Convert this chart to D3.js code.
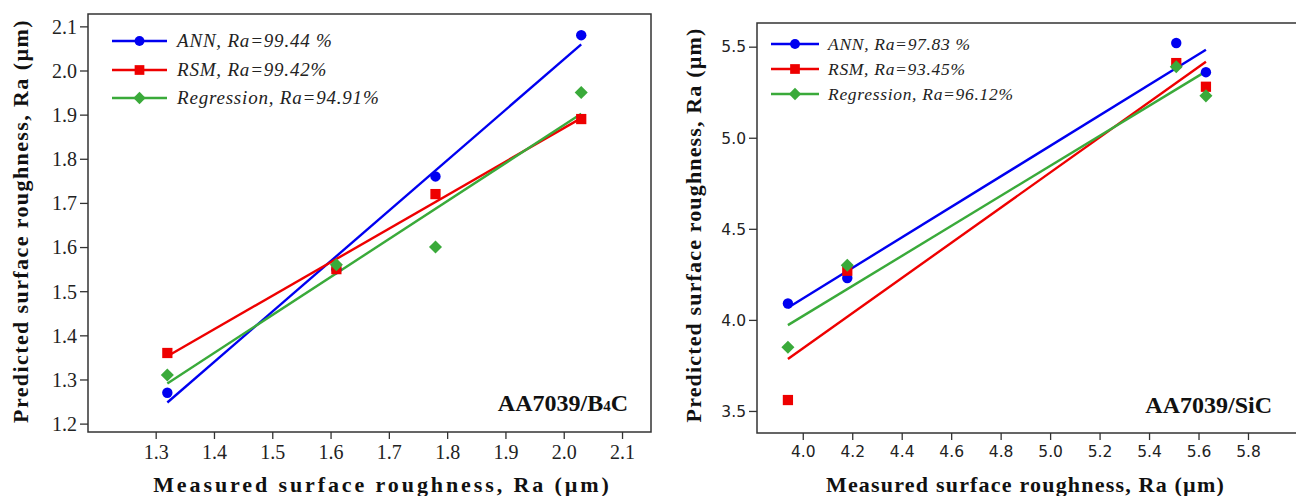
<!DOCTYPE html>
<html lang="en">
<head>
    <meta charset="UTF-8">
    <title>Predicted vs measured surface roughness</title>
    <script src="https://d3js.org/d3.v7.min.js"></script>
    <style>
        body { margin: 0; background: #fff; }
        svg { display: block; }
    </style>
</head>
<body>
<svg id="chart" width="1296" height="496"></svg>
<script>
    // AA7039/B4C panel
    const b4cMeasured = [1.32, 1.61, 1.78, 2.03];
    const b4cANN = [1.27, 1.55, 1.76, 2.08];
    const b4cRSM = [1.36, 1.55, 1.72, 1.89];
    const b4cReg = [1.31, 1.56, 1.60, 1.95];
    const b4cLegend = ["ANN, Ra=99.44 %", "RSM, Ra=99.42%", "Regression, Ra=94.91%"];
    const b4cXTicks = [1.3, 1.4, 1.5, 1.6, 1.7, 1.8, 1.9, 2.0, 2.1];
    const b4cYTicks = [1.2, 1.3, 1.4, 1.5, 1.6, 1.7, 1.8, 1.9, 2.0, 2.1];

    // AA7039/SiC panel
    const sicMeasured = [3.94, 4.18, 5.51, 5.63];
    const sicANN = [4.09, 4.23, 5.52, 5.36];
    const sicRSM = [3.56, 4.27, 5.41, 5.28];
    const sicReg = [3.85, 4.30, 5.39, 5.23];
    const sicLegend = ["ANN, Ra=97.83 %", "RSM, Ra=93.45%", "Regression, Ra=96.12%"];
    const sicXTicks = [4.0, 4.2, 4.4, 4.6, 4.8, 5.0, 5.2, 5.4, 5.6, 5.8];
    const sicYTicks = [3.5, 4.0, 4.5, 5.0, 5.5];

    const colors = ["#0000f0", "#ee0000", "#3aaa3a"];
    // diamond = square turned 45 degrees, like the original
    const shapes = [d3.symbolCircle, d3.symbolSquare, d3.symbolSquare];
    const turn = [0, 0, 45];
    const markSize = [85, 105, 85];

    const SERIF = '"Liberation Serif", Tinos, "Times New Roman", serif';
    const SANS = '"DejaVu Sans", Verdana, sans-serif';

    const svg = d3.select("#chart");

    // least squares fit, drawn between the first and last measured value
    function fit(xs, ys) {
        const mx = d3.mean(xs), my = d3.mean(ys);
        const sxy = d3.sum(xs, (x, i) => (x - mx) * (ys[i] - my));
        const sxx = d3.sum(xs, x => (x - mx) * (x - mx));
        const b = sxy / sxx;
        return d3.extent(xs).map(x => [x, my + b * (x - mx)]);
    }

    function panel(o) {
        const x = d3.scaleLinear().domain(o.xDomain).range([o.left, o.right]);
        const y = d3.scaleLinear().domain(o.yDomain).range([o.bottom, o.top]);
        const g = svg.append("g");

        // frame
        g.append("rect")
            .attr("x", o.left).attr("y", o.top)
            .attr("width", o.right - o.left).attr("height", o.bottom - o.top)
            .attr("fill", "none").attr("stroke", "#333").attr("stroke-width", 1.5);

        // axes
        g.append("g")
            .attr("transform", `translate(0,${o.bottom})`)
            .call(d3.axisBottom(x).tickValues(o.xTicks).tickSize(7).tickSizeOuter(0).tickFormat(d3.format(".1f")))
            .call(a => a.select(".domain").remove())
            .call(a => a.selectAll("line").attr("stroke", "#333").attr("stroke-width", 1.3))
            .call(a => a.selectAll("text")
                .style("font-family", o.tickFont).style("font-size", o.tickSize + "px")
                .attr("fill", "#222").attr("y", o.xLabelDy));

        g.append("g")
            .attr("transform", `translate(${o.left},0)`)
            .call(d3.axisLeft(y).tickValues(o.yTicks).tickSize(8).tickSizeOuter(0).tickFormat(d3.format(".1f")))
            .call(a => a.select(".domain").remove())
            .call(a => a.selectAll("line").attr("stroke", "#333").attr("stroke-width", 1.3))
            .call(a => a.selectAll("text")
                .style("font-family", o.tickFont).style("font-size", o.tickSize + "px")
                .attr("fill", "#222").attr("x", -11).attr("dy", "0.34em"));

        // fitted lines
        const line = d3.line().x(d => x(d[0])).y(d => y(d[1]));
        o.series.forEach((ys, i) => {
            g.append("path")
                .datum(fit(o.measured, ys))
                .attr("d", line)
                .attr("fill", "none")
                .attr("stroke", colors[i])
                .attr("stroke-width", 2.4);
        });

        // points
        o.series.forEach((ys, i) => {
            g.append("g").selectAll("path")
                .data(ys)
                .join("path")
                .attr("transform", (d, j) => `translate(${x(o.measured[j])},${y(d)}) rotate(${turn[i]})`)
                .attr("d", d3.symbol(shapes[i], markSize[i]))
                .attr("fill", colors[i]);
        });

        // legend
        const lg = g.append("g");
        o.legend.forEach((t, i) => {
            const yy = o.legY[i];
            lg.append("line")
                .attr("x1", o.legX[0]).attr("x2", o.legX[1])
                .attr("y1", yy).attr("y2", yy)
                .attr("stroke", colors[i]).attr("stroke-width", 2.4);
            lg.append("path")
                .attr("transform", `translate(${(o.legX[0] + o.legX[1]) / 2},${yy}) rotate(${turn[i]})`)
                .attr("d", d3.symbol(shapes[i], markSize[i] * 0.9))
                .attr("fill", colors[i]);
            lg.append("text")
                .attr("x", o.legX[2]).attr("y", yy + 6)
                .style("font-family", SERIF)
                .style("font-size", o.legSize + "px")
                .style("font-style", "italic")
                .style("letter-spacing", o.legSpacing + "px")
                .attr("fill", "#222")
                .text(t);
        });

        // material label
        const lab = g.append("text")
            .attr("x", o.labelX).attr("y", o.labelY)
            .attr("text-anchor", "end")
            .style("font-family", SERIF)
            .style("font-size", "24px").style("font-weight", "bold")
            .attr("fill", "#111");
        o.label.forEach(p => lab.append("tspan").style("font-size", p[1] + "px").text(p[0]));

        // axis titles
        g.append("text")
            .attr("x", (o.left + o.right) / 2 + o.xTitleShift).attr("y", 492)
            .attr("text-anchor", "middle")
            .style("font-family", SERIF)
            .style("font-size", o.titleSize + "px").style("font-weight", "bold")
            .style("letter-spacing", o.xTitleSpacing + "px")
            .attr("fill", "#111")
            .text("Measured surface roughness, Ra (µm)");

        g.append("text")
            .attr("transform", `translate(${o.yTitleX},${o.yTitleY}) rotate(-90)`)
            .attr("text-anchor", "middle")
            .style("font-family", SERIF)
            .style("font-size", o.titleSize + "px").style("font-weight", "bold")
            .style("letter-spacing", o.yTitleSpacing + "px")
            .attr("fill", "#111")
            .text("Predicted surface roughness, Ra (µm)");
    }

    panel({
        left: 88, right: 651, top: 14, bottom: 432,
        xDomain: [1.1839, 2.1497], yDomain: [1.181, 2.128],
        xTicks: b4cXTicks, yTicks: b4cYTicks,
        tickFont: SERIF, tickSize: 20, xLabelDy: 13,
        measured: b4cMeasured, series: [b4cANN, b4cRSM, b4cReg],
        legend: b4cLegend, legY: [41, 70, 98], legX: [112, 167, 177],
        legSize: 19, legSpacing: 0.8,
        label: [["AA7039/B", 24], ["4", 15], ["C", 24]], labelX: 628, labelY: 411,
        titleSize: 22, xTitleSpacing: 2.9, yTitleSpacing: 1.4, xTitleShift: 13,
        yTitleX: 28, yTitleY: 221
    });

    panel({
        left: 757, right: 1298, top: 23, bottom: 433,
        xDomain: [3.815, 6.0022], yDomain: [3.379, 5.630],
        xTicks: sicXTicks, yTicks: sicYTicks,
        tickFont: SANS, tickSize: 15.5, xLabelDy: 13,
        measured: sicMeasured, series: [sicANN, sicRSM, sicReg],
        legend: sicLegend, legY: [44, 69, 94], legX: [771, 819, 828],
        legSize: 17.5, legSpacing: 0.7,
        label: [["AA7039/SiC", 24]], labelX: 1272, labelY: 413,
        titleSize: 22, xTitleSpacing: 1.2, yTitleSpacing: 1.15, xTitleShift: -2,
        yTitleX: 701, yTitleY: 225
    });
</script>
</body>
</html>
